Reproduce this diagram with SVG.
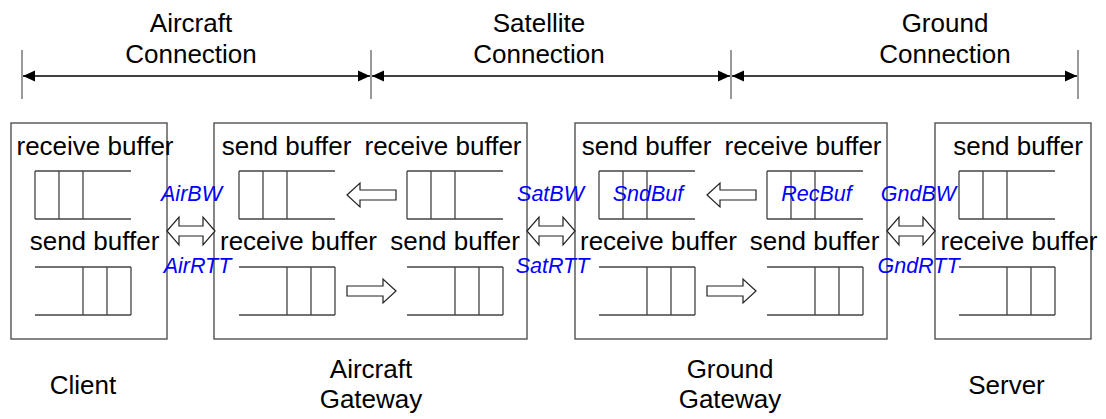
<svg xmlns="http://www.w3.org/2000/svg" width="1106" height="419" viewBox="0 0 1106 419">
  <style>
    .box { fill: none; stroke: #444; stroke-width: 1.3; }
    .q { fill: none; stroke: #444; stroke-width: 1.3; }
    .lbl { font-family: "Liberation Sans", Arial, sans-serif; font-size: 26px; fill: #000; text-anchor: middle; }
    .par { font-family: "Liberation Sans", Arial, sans-serif; font-size: 21.5px; font-style: italic; fill: #0000ff; text-anchor: middle; }
    .hollow { fill: #fff; stroke: #222; stroke-width: 1.2; stroke-linejoin: miter; }
    .dim { stroke: #000; stroke-width: 1.3; fill: none; }
    .tick { stroke: #555; stroke-width: 1.2; }
  </style>
  <defs>
    <!-- queue closed on the left (cells at the head) -->
    <path id="qHead" class="q" d="M0,0 H96 M0,48 H96 M0,0 V48 M24,0 V48 M48,0 V48"/>
    <!-- queue closed on the right -->
    <path id="qTail" class="q" d="M0,0 H96 M0,48 H96 M48,0 V48 M72,0 V48 M96,0 V48"/>
    <!-- hollow block arrows -->
    <path id="arrowL" class="hollow" d="M0,0 L13,-12 L13,-5 L49,-5 L49,5 L13,5 L13,12 Z"/>
    <path id="arrowR" class="hollow" d="M0,0 L-13,-12 L-13,-5 L-49,-5 L-49,5 L-13,5 L-13,12 Z"/>
    <path id="arrowLR" class="hollow" d="M0,0 L12,-14 L12,-5 L36,-5 L36,-14 L48,0 L36,14 L36,5 L12,5 L12,14 Z"/>
    <marker id="dimHead" viewBox="0 0 12 12" refX="12" refY="6" markerWidth="12" markerHeight="12" markerUnits="userSpaceOnUse" orient="auto-start-reverse">
      <path d="M0,0.5 L12,6 L0,11.5 Z" fill="#000"/>
    </marker>
  </defs>

  <rect width="1106" height="419" fill="#fff"/>

  <!-- connection spans -->
  <g id="spans">
    <line class="tick" x1="22" y1="50" x2="22" y2="99"/>
    <line class="tick" x1="371" y1="50" x2="371" y2="99"/>
    <line class="tick" x1="731" y1="50" x2="731" y2="99"/>
    <line class="tick" x1="1078" y1="50" x2="1078" y2="99"/>
    <line class="dim" x1="23" y1="76" x2="370" y2="76" marker-start="url(#dimHead)" marker-end="url(#dimHead)"/>
    <line class="dim" x1="372" y1="76" x2="730" y2="76" marker-start="url(#dimHead)" marker-end="url(#dimHead)"/>
    <line class="dim" x1="732" y1="76" x2="1077" y2="76" marker-start="url(#dimHead)" marker-end="url(#dimHead)"/>
    <text class="lbl" x="191" y="32">Aircraft</text>
    <text class="lbl" x="191" y="63">Connection</text>
    <text class="lbl" x="539" y="32">Satellite</text>
    <text class="lbl" x="539" y="63">Connection</text>
    <text class="lbl" x="945" y="32">Ground</text>
    <text class="lbl" x="945" y="63">Connection</text>
  </g>

  <!-- client -->
  <g id="client">
    <rect class="box" x="11" y="123" width="156" height="216"/>
    <text class="lbl" x="95" y="155">receive buffer</text>
    <use href="#qHead" x="35" y="171"/>
    <text class="lbl" x="94.5" y="250">send buffer</text>
    <use href="#qTail" x="35" y="267"/>
    <text class="lbl" x="83" y="394">Client</text>
  </g>

  <!-- aircraft gateway -->
  <g id="aircraft-gateway">
    <rect class="box" x="214" y="123" width="313" height="216"/>
    <text class="lbl" x="286.5" y="155">send buffer</text>
    <text class="lbl" x="443" y="155">receive buffer</text>
    <use href="#qHead" x="239" y="171"/>
    <use href="#qHead" x="407" y="171"/>
    <use href="#arrowL" x="347" y="195"/>
    <text class="lbl" x="298.5" y="250">receive buffer</text>
    <text class="lbl" x="455" y="250">send buffer</text>
    <use href="#qTail" x="239" y="267"/>
    <use href="#qTail" x="407" y="267"/>
    <use href="#arrowR" x="396" y="291"/>
    <text class="lbl" x="371" y="378">Aircraft</text>
    <text class="lbl" x="371" y="408">Gateway</text>
  </g>

  <!-- ground gateway -->
  <g id="ground-gateway">
    <rect class="box" x="575" y="123" width="312" height="216"/>
    <text class="lbl" x="646.5" y="155">send buffer</text>
    <text class="lbl" x="803" y="155">receive buffer</text>
    <use href="#qHead" x="599" y="171"/>
    <use href="#qHead" x="767" y="171"/>
    <use href="#arrowL" x="707" y="195"/>
    <text class="par" x="648" y="201">SndBuf</text>
    <text class="par" x="816.5" y="201">RecBuf</text>
    <text class="lbl" x="658.5" y="250">receive buffer</text>
    <text class="lbl" x="814.5" y="250">send buffer</text>
    <use href="#qTail" x="599" y="267"/>
    <use href="#qTail" x="767" y="267"/>
    <use href="#arrowR" x="756" y="291"/>
    <text class="lbl" x="730" y="378">Ground</text>
    <text class="lbl" x="730" y="408">Gateway</text>
  </g>

  <!-- server -->
  <g id="server">
    <rect class="box" x="935" y="123" width="156" height="216"/>
    <text class="lbl" x="1018" y="155">send buffer</text>
    <use href="#qHead" x="959" y="171"/>
    <text class="lbl" x="1019" y="250">receive buffer</text>
    <use href="#qTail" x="959" y="267"/>
    <text class="lbl" x="1006.5" y="394">Server</text>
  </g>

  <!-- links between hosts -->
  <g id="connectors">
    <use href="#arrowLR" x="167" y="231"/>
    <use href="#arrowLR" x="527" y="231"/>
    <use href="#arrowLR" x="887" y="231"/>
    <text class="par" x="191.5" y="201">AirBW</text>
    <text class="par" x="197.5" y="273">AirRTT</text>
    <text class="par" x="550.5" y="201">SatBW</text>
    <text class="par" x="552.5" y="273">SatRTT</text>
    <text class="par" x="918.5" y="201">GndBW</text>
    <text class="par" x="918.5" y="273">GndRTT</text>
  </g>
</svg>
